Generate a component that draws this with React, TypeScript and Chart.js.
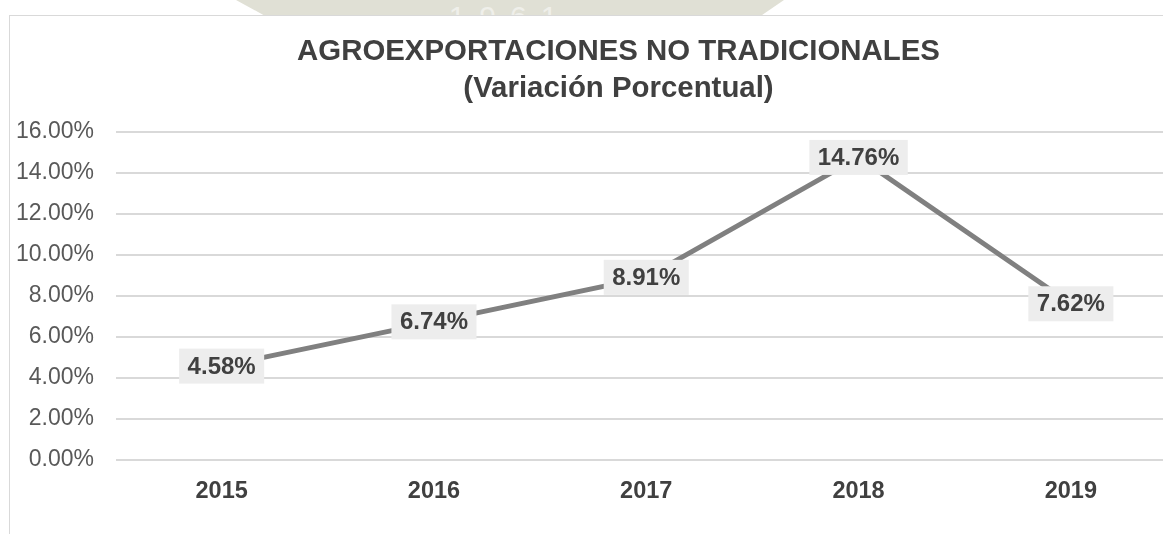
import React, { useEffect, useRef } from "react";
import { Chart, registerables } from "chart.js";

Chart.register(...registerables);

const categories = ["2015", "2016", "2017", "2018", "2019"];
const values = [4.58, 6.74, 8.91, 14.76, 7.62];
const yTicks = [0, 2, 4, 6, 8, 10, 12, 14, 16];
const titleLines = ["AGROEXPORTACIONES NO TRADICIONALES", "(Variación Porcentual)"];

const FONT = "'Liberation Sans', Arial, sans-serif";

const boxLabels = {
  id: "boxLabels",
  afterDatasetsDraw(chart: any) {
    const ctx = chart.ctx;
    const meta = chart.getDatasetMeta(0);
    ctx.save();
    ctx.font = `bold 24px ${FONT}`;
    ctx.textAlign = "center";
    ctx.textBaseline = "middle";
    meta.data.forEach((pt: any, i: number) => {
      const text = values[i].toFixed(2) + "%";
      const w = ctx.measureText(text).width + 17;
      const h = 35;
      ctx.fillStyle = "#ededed";
      ctx.fillRect(pt.x - w / 2, pt.y - h / 2, w, h);
      ctx.fillStyle = "#404040";
      ctx.fillText(text, pt.x, pt.y + 1);
    });
    ctx.restore();
  },
};

const titleDraw = {
  id: "titleDraw",
  afterDraw(chart: any) {
    const ctx = chart.ctx;
    ctx.save();
    ctx.font = `bold 29.4px ${FONT}`;
    ctx.fillStyle = "#404040";
    ctx.textAlign = "center";
    ctx.textBaseline = "middle";
    const cx = 618.5;
    titleLines.forEach((line, i) => {
      ctx.fillText(line, cx, 52 + i * 36.5);
    });
    ctx.restore();
  },
};

export default function App() {
  const ref = useRef<HTMLCanvasElement>(null);
  useEffect(() => {
    if (!ref.current) return;
    const chart = new Chart(ref.current, {
      type: "line",
      data: {
        labels: categories,
        datasets: [
          {
            data: values,
            borderColor: "#808080",
            borderWidth: 5,
            pointRadius: 0,
            tension: 0,
            fill: false,
          },
        ],
      },
      options: {
        animation: false,
        responsive: false,
        layout: { padding: { top: 132, left: 0, right: 13, bottom: 14 } },
        plugins: {
          legend: { display: false },
          tooltip: { enabled: false },
          title: { display: false },
        },
        scales: {
          x: {
            offset: true,
            grid: { display: false },
            border: { display: false },
            ticks: {
              color: "#404040",
              font: { family: FONT, size: 23.5, weight: "bold" },
              padding: 9,
            },
            afterFit: (s: any) => {
              s.height = 60;
            },
          },
          y: {
            min: 0,
            max: 16,
            border: { display: false },
            grid: { color: "#d9d9d9", lineWidth: 2, drawTicks: false },
            afterBuildTicks: (s: any) => {
              s.ticks = yTicks.map((v) => ({ value: v }));
            },
            ticks: {
              color: "#595959",
              font: { family: FONT, size: 23 },
              padding: 21.5,
              callback: (v: any) => Number(v).toFixed(2) + "%",
            },
            afterFit: (s: any) => {
              s.width = 115.5;
            },
          },
        },
      },
      plugins: [boxLabels, titleDraw],
    });
    return () => chart.destroy();
  }, []);

  return (
    <div
      style={{
        position: "absolute",
        left: 0,
        top: 0,
        width: 1163,
        height: 534,
        overflow: "hidden",
        background: "#ffffff",
      }}
    >
      <div
        style={{
          position: "absolute",
          left: 236,
          top: 0,
          width: 548,
          height: 15,
          background: "#e0e0d5",
          clipPath: "polygon(0 0, 100% 0, 96% 100%, 5% 100%)",
          overflow: "hidden",
        }}
      >
        <div
          style={{
            position: "absolute",
            left: 0,
            width: "100%",
            top: 2,
            textAlign: "center",
            fontFamily: FONT,
            fontSize: 30,
            letterSpacing: 14,
            color: "#efefea",
            lineHeight: "30px",
          }}
        >
          1961
        </div>
      </div>
      <div
        style={{
          position: "absolute",
          left: 9,
          top: 15,
          width: 1300,
          height: 600,
          borderLeft: "1px solid #d9d9d9",
          borderTop: "1px solid #d9d9d9",
        }}
      />
      <canvas
        ref={ref}
        width={1190}
        height={534}
        style={{ position: "absolute", left: 0, top: 0 }}
      />
    </div>
  );
}
